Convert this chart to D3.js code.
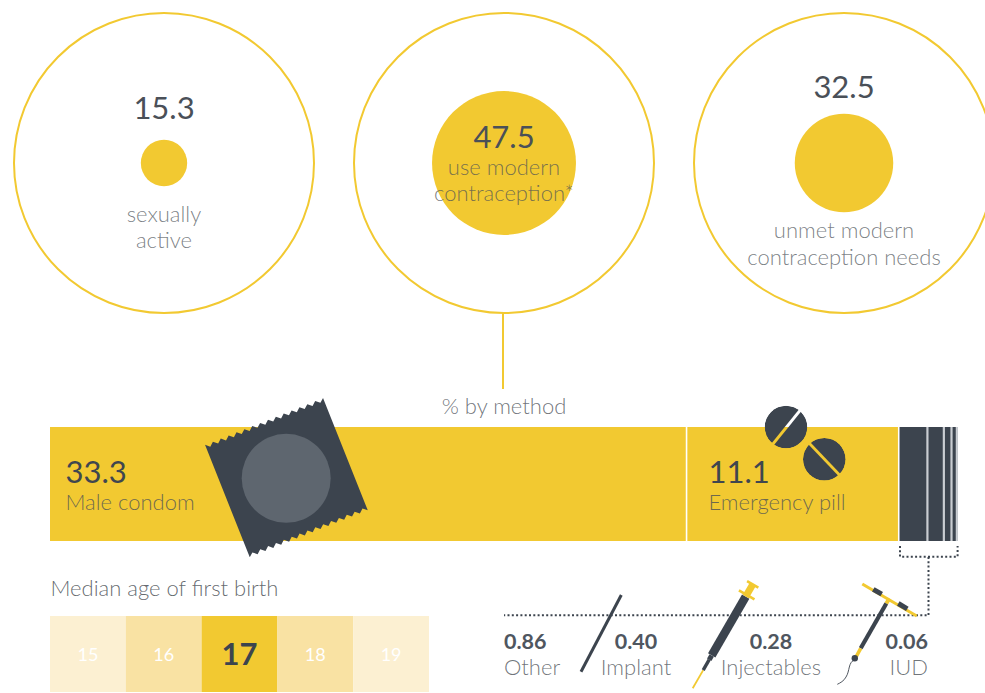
<!DOCTYPE html>
<html>
<head>
<meta charset="utf-8">
<title>Modern contraception</title>
<script src="https://cdn.jsdelivr.net/npm/d3@7"></script>
<style>
  html, body { margin: 0; padding: 0; background: #fff; overflow: hidden; }
  svg { display: block; }
  text { font-family: Lato, "Open Sans", sans-serif; }
</style>
</head>
<body>
<div id="chart"></div>
<script>
// Headline percentages shown in the three rings
const ringKeys = ["sexually", "modern", "unmet"];
const ringValues = [15.3, 47.5, 32.5];
const ringLabels = [["sexually", "active"], ["use modern", "contraception*"], ["unmet modern", "contraception needs"]];

// Method mix of the modern-contraception share, left to right along the bar
const methodValues = [33.3, 11.1, 1.5, 0.86, 0.40, 0.28, 0.06];
const methodNames = ["Male condom", "Emergency pill", "", "Other", "Implant", "Injectables", "IUD"];

// Median age strip
const ageTicks = [15, 16, 17, 18, 19];
const ageHighlight = 17;

const YELLOW = "#f2c931", DARK = "#3c444e", LABEL = "#4a4f56";
const LABEL_SIZE = 22;
const width = 985, height = 693;

const svg = d3.select("#chart").append("svg").attr("width", width).attr("height", height);

// ---- rings ----
const ringX = d3.scalePoint().domain(ringKeys).range([164, 844]);
const ringR = d3.scaleLinear().domain([0, 100]).range([0, 151.5]);
const ringOuter = 150;
const ringCy = 163;

const rings = svg.append("g").selectAll("g").data(ringKeys).join("g")
  .attr("transform", d => `translate(${ringX(d)},${ringCy})`);
rings.append("circle").attr("r", ringOuter).attr("fill", "none").attr("stroke", YELLOW).attr("stroke-width", 2);
rings.append("circle").attr("r", (d, i) => ringR(ringValues[i])).attr("fill", YELLOW);

const ringValueY = [-44, -15, -65];
const ringLabelY = [59, 12, 75];
const ringLineGap = [26, 26, 27];
rings.append("text").attr("text-anchor", "middle").attr("y", (d, i) => ringValueY[i])
  .attr("font-size", 31).attr("font-weight", 400).attr("fill", "#4a5058")
  .text((d, i) => ringValues[i]);
rings.each(function (d, i) {
  d3.select(this).selectAll("text.lbl").data(ringLabels[i]).join("text").attr("class", "lbl")
    .attr("text-anchor", "middle").attr("y", (t, j) => ringLabelY[i] + j * ringLineGap[i])
    .attr("font-size", LABEL_SIZE).attr("font-weight", 300).attr("fill", LABEL).attr("fill-opacity", 0.72)
    .text(t => t);
});

// Connector from the middle ring down to the method bar
svg.append("line").attr("x1", 503).attr("x2", 503).attr("y1", 313).attr("y2", 389)
  .attr("stroke", YELLOW).attr("stroke-width", 2);
svg.append("text").attr("x", 504).attr("y", 414).attr("text-anchor", "middle")
  .attr("font-size", LABEL_SIZE).attr("font-weight", 300).attr("fill", LABEL).attr("fill-opacity", 0.78)
  .text("% by method");

// ---- method bar ----
const barX = d3.scaleLinear().domain([0, d3.sum(methodValues)]).range([50, 958]);
const barTop = 427, barBottom = 541;
const stacked = [];
methodValues.reduce((acc, v, i) => { stacked.push({ start: acc, end: acc + v, i }); return acc + v; }, 0);

svg.append("g").selectAll("rect").data(stacked).join("rect")
  .attr("x", d => barX(d.start)).attr("width", d => barX(d.end) - barX(d.start))
  .attr("y", barTop).attr("height", barBottom - barTop)
  .attr("fill", d => d.i < 2 ? YELLOW : DARK);

// Separators between segments
svg.append("g").selectAll("line").data(stacked.slice(1)).join("line")
  .attr("x1", d => barX(d.start)).attr("x2", d => barX(d.start))
  .attr("y1", barTop).attr("y2", barBottom)
  .attr("stroke", d => d.i <= 2 ? "#fff" : "#c9cdd2")
  .attr("stroke-width", d => d.i <= 2 ? 1.6 : 2.2);

// Condom wrapper with crimped top and bottom edges
const condom = svg.append("g").attr("transform", "translate(286.4,477.6) rotate(-21.7)");
const wrapW = 127, wrapH = 121, teeth = 15, amp = 3.6;
const wrapPts = [];
for (let i = 0; i <= teeth * 2; i++) wrapPts.push([-wrapW / 2 + wrapW * i / (teeth * 2), -wrapH / 2 + (i % 2 ? amp : 0)]);
for (let i = teeth * 2; i >= 0; i--) wrapPts.push([-wrapW / 2 + wrapW * i / (teeth * 2), wrapH / 2 - (i % 2 ? amp : 0)]);
condom.append("path").attr("d", d3.line()(wrapPts) + "Z").attr("fill", DARK);
svg.append("circle").attr("cx", 286.2).attr("cy", 478.3).attr("r", 44.5).attr("fill", "#5e666f");

// Scored pills; the score line lets the page behind show through
const pills = [
  { cx: 786, cy: 427, r: 21.3, a: [800, 410.5], b: [772.5, 444.5] },
  { cx: 824.3, cy: 459.3, r: 21.3, a: [809.5, 443.5], b: [840, 475.5] }
];
const defs = svg.append("defs");
pills.forEach((p, i) => {
  const m = defs.append("mask").attr("id", "pill" + i).attr("maskUnits", "userSpaceOnUse")
    .attr("x", 0).attr("y", 0).attr("width", width).attr("height", height);
  m.append("rect").attr("width", width).attr("height", height).attr("fill", "#000");
  m.append("circle").attr("cx", p.cx).attr("cy", p.cy).attr("r", p.r).attr("fill", "#fff");
  m.append("line").attr("x1", p.a[0]).attr("y1", p.a[1]).attr("x2", p.b[0]).attr("y2", p.b[1])
    .attr("stroke", "#000").attr("stroke-width", 2.8);
  svg.append("circle").attr("cx", p.cx).attr("cy", p.cy).attr("r", p.r).attr("fill", DARK)
    .attr("mask", `url(#pill${i})`);
});

// Labels for the two large segments
const barLabelX = [65.5, 708.5];
[0, 1].forEach(i => {
  svg.append("text").attr("x", barLabelX[i]).attr("y", 483).attr("font-size", 31).attr("font-weight", 400)
    .attr("fill", "#3f464f").text(methodValues[i]);
  svg.append("text").attr("x", barLabelX[i]).attr("y", 510).attr("font-size", LABEL_SIZE).attr("font-weight", 300)
    .attr("fill", LABEL).attr("fill-opacity", 0.78).text(methodNames[i]);
});

// ---- dotted leader from the dark block to the small methods ----
const dotted = d3.line();
svg.append("path")
  .attr("d", dotted([[900, 546], [900, 556.7], [957.6, 556.7], [957.6, 546]]) + dotted([[928.5, 557], [928.5, 615.3], [504, 615.3]]))
  .attr("fill", "none").attr("stroke", DARK).attr("stroke-width", 2).attr("stroke-dasharray", "2 2.3");

// ---- small method labels ----
const smallIdx = [3, 4, 5, 6];
const smallX = [504, 636, 771, 928];
const smallAnchor = ["start", "middle", "middle", "end"];
const fmt = d3.format(".2f");
const small = svg.append("g").selectAll("g").data(smallIdx).join("g");
small.append("text").attr("x", (d, i) => smallX[i]).attr("y", 649).attr("text-anchor", (d, i) => smallAnchor[i])
  .attr("font-size", 21.5).attr("font-weight", 700).attr("fill", "#4f565f").text(d => fmt(methodValues[d]));
small.append("text").attr("x", (d, i) => smallX[i]).attr("y", 675).attr("text-anchor", (d, i) => smallAnchor[i])
  .attr("font-size", LABEL_SIZE).attr("font-weight", 300).attr("fill", LABEL).attr("fill-opacity", 0.78).text(d => methodNames[d]);

// Implant rod
svg.append("line").attr("x1", 621.3).attr("y1", 595).attr("x2", 581).attr("y2", 671.7)
  .attr("stroke", DARK).attr("stroke-width", 3);

// Syringe, drawn along a local axis running from needle tip (0) to plunger top
const syringe = svg.append("g").attr("transform", "translate(692.7,688.3) rotate(-60)");
const syrLine = (x1, x2, w, c) => syringe.append("line").attr("x1", x1).attr("x2", x2).attr("y1", 0).attr("y2", 0)
  .attr("stroke", c).attr("stroke-width", w);
syrLine(0, 21, 1.8, YELLOW);
syrLine(21, 33, 3.4, DARK);
syrLine(33, 38, 5, DARK);
syrLine(38, 106, 8.5, DARK);
syrLine(106, 120, 7, YELLOW);
syringe.append("line").attr("x1", 108).attr("x2", 108).attr("y1", -9).attr("y2", 9).attr("stroke", YELLOW).attr("stroke-width", 2.6);
syringe.append("line").attr("x1", 120).attr("x2", 120).attr("y1", -6.5).attr("y2", 6.5).attr("stroke", YELLOW).attr("stroke-width", 2.6);

// IUD: crossbar, stem, knob and thread
const iud = svg.append("g").attr("fill", "none").attr("stroke-linecap", "butt");
const seg = (x1, y1, x2, y2, w, c) => iud.append("line").attr("x1", x1).attr("y1", y1).attr("x2", x2).attr("y2", y2)
  .attr("stroke", c).attr("stroke-width", w);
seg(862.3, 584, 916.7, 616, 3, YELLOW);
seg(873.3, 589.3, 881.7, 594.2, 5, DARK);
seg(898.3, 603.5, 907.3, 608.8, 5, DARK);
seg(889.3, 598.5, 886.3, 603.5, 4, YELLOW);
seg(886.3, 603.5, 860.7, 648.3, 4.2, DARK);
seg(860.7, 648.3, 856, 657, 3.6, YELLOW);
iud.append("circle").attr("cx", 854.8).attr("cy", 658.3).attr("r", 3.2).attr("fill", DARK);
iud.append("path").attr("d", "M854.7,660 C848,662 850,671 846,677 C844,681 840,683 837.3,684.3")
  .attr("stroke", DARK).attr("stroke-width", 0.9);

// ---- median age strip ----
svg.append("text").attr("x", 50.5).attr("y", 596).attr("font-size", LABEL_SIZE).attr("font-weight", 300)
  .attr("fill", LABEL).attr("fill-opacity", 0.85).text("Median age of first birth");

const ageX = d3.scaleBand().domain(ageTicks).range([50, 429]);
const ageFill = d3.scaleOrdinal().domain([0, 1, 2]).range([YELLOW, "#f9e2a3", "#fcf0d2"]);
const ageTop = 616, ageBottom = 692;
const ages = svg.append("g").selectAll("g").data(ageTicks).join("g");
ages.append("rect").attr("x", d => ageX(d)).attr("width", ageX.bandwidth()).attr("y", ageTop).attr("height", ageBottom - ageTop)
  .attr("fill", d => ageFill(Math.abs(d - ageHighlight)));
ages.append("text").attr("x", d => ageX(d) + ageX.bandwidth() / 2).attr("y", d => d === ageHighlight ? 665 : 661)
  .attr("text-anchor", "middle")
  .attr("font-size", d => d === ageHighlight ? 31 : 18)
  .attr("font-weight", d => d === ageHighlight ? 700 : 400)
  .attr("fill", d => d === ageHighlight ? DARK : "#fff")
  .text(d => d);
</script>
</body>
</html>
